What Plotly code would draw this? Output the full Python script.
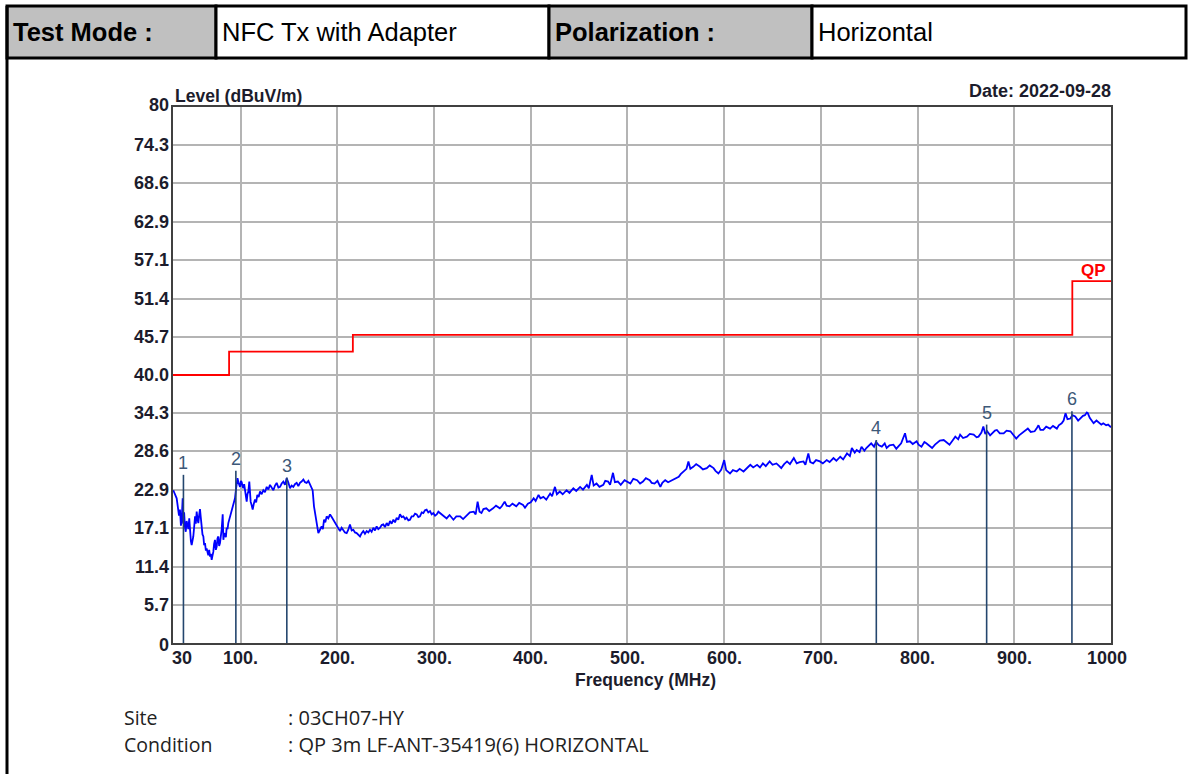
import plotly.graph_objects as go

# ---------------- data ----------------
freq_a = [30.3, 31.5, 33.8, 35.0, 36.2, 37.2, 38.2, 39.0, 40.0, 40.6, 41.5, 42.4, 43.2, 44.1, 45.0, 45.9, 46.8, 47.6,
          48.5, 49.3, 50.2, 51.0, 52.0, 52.8, 53.6, 54.5, 55.3, 56.2, 57.0, 57.9, 58.7, 59.6, 60.5, 61.4, 62.2, 63.1,
          64.0, 64.8, 65.7, 66.5, 67.4, 68.3, 69.1, 70.0, 70.8, 71.7, 72.5, 73.4, 74.3, 75.2, 76.0, 76.9, 77.7, 78.6,
          79.5, 80.3, 81.4, 82.1, 83.0, 83.8, 84.7, 85.5, 86.4, 87.2, 88.9, 90.7, 92.4, 94.1, 95.0, 95.8, 96.7, 97.6,
          98.5, 99.3, 100.2, 101.0, 101.9, 102.7, 103.6, 104.5, 105.3, 106.2, 107.0, 107.9, 108.9, 109.6, 110.3, 111.3,
          112.4, 113.6, 114.8, 116.0, 117.2, 118.6, 120.0, 121.7, 123.4, 125.1, 126.9, 128.6, 130.3, 132.0, 133.8,
          135.5, 137.2, 139.0, 140.7, 142.4, 144.1, 145.8, 147.5, 149.2, 151.0, 152.7, 154.4, 156.1, 157.9, 159.6,
          161.3, 163.0, 164.8, 166.5, 168.2, 170.0, 171.7, 173.0, 174.4, 175.8, 177.2, 178.6, 180.3, 182.0, 183.7,
          185.0, 186.2, 187.5, 188.9, 190.6, 192.4, 194.1, 195.8, 197.5, 199.3, 201.0, 202.7, 204.4, 206.1, 207.8,
          209.6, 211.3, 213.0, 214.8, 216.5, 218.2, 219.9, 221.6, 223.4, 225.1, 226.8, 228.5, 230.3, 232.0, 233.7,
          235.4, 237.2, 238.9, 240.6, 242.3, 244.1, 245.8, 247.5, 249.2, 251.0, 252.7, 254.4, 256.1, 257.9, 259.6,
          261.3, 263.0, 264.7, 266.5, 268.2, 270.0, 271.6, 273.4, 275.1, 276.8, 278.5, 280.3, 282.0, 283.7, 285.4,
          287.2, 288.9, 290.6, 292.3, 294.0, 295.8, 297.5, 299.2, 301.0, 302.7, 304.4, 306.1]
level_a = [22.8, 22.3, 21.6, 20.3, 19.0, 19.9, 17.5, 18.4, 21.6, 17.8, 19.5, 17.2, 16.6, 18.2, 17.4, 17.0, 18.6, 15.9,
           15.2, 14.6, 15.4, 15.9, 17.5, 18.9, 17.8, 19.6, 18.5, 17.9, 19.0, 20.0, 18.8, 17.4, 16.2, 15.9, 14.6, 14.9,
           13.8, 14.1, 13.4, 13.1, 13.9, 12.9, 13.3, 12.4, 13.0, 13.6, 14.8, 15.4, 13.9, 14.4, 15.6, 15.9, 14.5, 14.9,
           16.0, 16.9, 19.2, 15.4, 16.4, 16.2, 15.8, 17.2, 17.0, 17.9, 18.9, 19.6, 20.7, 21.6, 22.8, 24.1, 24.6, 24.0,
           23.5, 23.3, 24.2, 24.0, 23.4, 23.1, 23.7, 22.8, 22.0, 21.1, 22.2, 22.6, 24.1, 22.0, 21.1, 20.6,
           19.9, 20.8, 21.4, 21.0, 22.1, 21.8, 22.6, 22.2, 22.8, 22.5, 23.3, 22.9, 23.6, 23.2, 22.8,
           23.5, 23.9, 23.2, 23.3, 23.8, 24.1, 23.6, 24.6, 24.0, 23.1, 23.5, 23.3, 23.7, 23.9, 23.4,
           23.9, 24.1, 24.4, 24.0, 23.9, 24.2, 23.6, 23.4, 22.8, 20.4, 19.0, 17.9, 16.4, 16.9, 17.4,
           17.0, 18.4, 18.0, 18.9, 18.6, 19.2, 18.8, 18.4, 17.9, 17.4, 17.0, 16.7, 17.2, 16.9, 16.5,
           16.4, 16.9, 17.7, 16.8, 16.9, 16.5, 16.4, 16.2, 15.9, 16.4, 16.7, 16.3, 16.7, 16.5, 16.9,
           16.6, 17.2, 16.8, 17.4, 17.0, 17.2, 17.6, 17.7, 17.3, 17.9, 17.5, 18.2, 17.8, 18.4, 18.0,
           18.7, 18.4, 19.2, 18.8, 18.9, 18.5, 18.7, 18.3, 18.4, 18.9, 18.9, 19.3, 19.2, 18.8, 18.9,
           19.5, 19.4, 19.8, 19.9, 19.5, 19.7, 19.2, 19.4, 19.0, 19.2, 19.6, 19.4]

freq_b = [309, 313, 316, 320, 323, 327, 330, 334, 337, 341, 343, 345, 347, 349, 351, 354, 357, 361, 364, 368, 370, 373,
          375, 378, 381, 385, 388, 392, 394, 397, 400, 403, 405, 408, 410, 413, 416, 420, 422, 425, 427, 430, 433, 437,
          440, 444, 447, 451, 454, 458, 460, 463, 465, 468, 471, 475, 477, 480, 482, 485, 487, 490, 493, 497, 500, 503,
          506, 510, 513, 516, 519, 523, 525, 528, 531, 534, 536, 539, 542, 546, 549, 553, 555, 558, 561, 563, 565, 568,
          571, 575, 578, 582, 585, 589, 591, 594, 597, 600, 602, 606, 609, 613, 616, 620, 623, 627, 630, 634, 637, 640,
          643, 647, 650, 654, 657, 659, 662, 665, 668, 672, 675]
level_b = [19.0, 18.6, 19.1, 18.4, 18.9, 18.9, 18.5, 19.1, 19.5, 19.6, 19.2, 21.1, 19.6, 19.4, 20.0, 20.1, 19.7, 20.1,
           20.5, 20.1, 20.4, 21.1, 20.5, 20.4, 20.8, 20.4, 20.9, 20.6, 20.2, 20.8, 21.0, 21.6, 21.2, 22.1, 21.6, 21.8,
           21.4, 22.3, 21.9, 23.3, 22.2, 22.6, 22.2, 22.8, 22.4, 23.1, 22.7, 23.3, 22.9, 23.6, 23.1, 25.1, 23.5, 23.8,
           23.3, 23.6, 24.2, 24.1, 23.6, 25.4, 24.0, 24.1, 23.6, 24.3, 24.0, 23.8, 24.5, 24.3, 23.8, 24.1, 24.6, 24.3,
           23.9, 23.8, 24.2, 23.3, 23.9, 24.3, 24.0, 24.3, 24.6, 24.8, 25.2, 25.6, 26.0, 27.1, 26.0, 26.3, 26.7, 26.3,
           25.9, 26.1, 26.5, 26.1, 25.7, 25.3, 25.9, 27.3, 25.8, 25.3, 25.8, 25.6, 26.0, 25.6, 26.1, 26.6, 26.2, 26.6,
           26.2, 26.8, 26.4, 27.1, 26.6, 26.8, 26.4, 26.1, 26.7, 27.1, 26.7, 27.6, 26.8]

freq_c = [678, 682, 684, 687, 689, 692, 695, 699, 702, 706, 709, 713, 716, 720, 723, 727, 730, 732, 735, 737, 740, 742,
          745, 747, 750, 752, 755, 757, 760, 763, 766, 768, 771, 775, 778, 780, 783, 787, 789, 792, 795, 799, 801, 804,
          807, 809, 812, 815, 818, 820, 823, 827, 830, 833, 836, 839, 842, 844, 847, 851, 854, 858, 861, 863, 866, 868,
          870, 872, 875, 877, 880, 882, 885, 889, 892, 896, 899, 902, 905, 908, 911, 914, 917, 921, 923, 925, 927, 930,
          933, 937, 940, 944, 946, 949, 951, 953, 955, 958, 960, 963, 966, 968, 971, 973, 975, 976, 978, 980, 982, 985,
          987, 990, 992, 995, 997, 999, 1000]
level_c = [27.0, 27.1, 26.6, 28.3, 27.0, 26.8, 27.3, 27.1, 26.8, 27.3, 27.0, 27.6, 27.2, 27.8, 27.4, 28.3, 27.9, 29.1,
           28.4, 28.8, 28.5, 29.3, 28.7, 29.1, 29.5, 29.8, 29.3, 30.0, 29.5, 29.3, 29.8, 29.1, 29.5, 29.6, 29.0, 29.3,
           29.8, 31.3, 30.0, 30.1, 29.7, 30.1, 29.6, 29.3, 30.0, 29.8, 29.4, 29.1, 29.6, 29.8, 30.2, 30.3, 29.9, 29.6,
           30.2, 30.8, 30.4, 31.1, 30.6, 30.8, 31.2, 31.1, 30.7, 30.8, 31.4, 32.3, 31.2, 31.6, 31.0, 31.3, 31.7, 31.8,
           31.3, 31.3, 31.7, 31.6, 31.1, 30.5, 31.0, 31.3, 31.6, 32.0, 31.5, 31.6, 32.0, 32.5, 31.8, 31.8, 32.3, 32.0,
           32.4, 32.0, 32.5, 32.8, 33.2, 34.3, 33.4, 33.5, 34.0, 33.8, 33.2, 33.5, 33.9, 34.0, 34.4, 34.3, 33.6, 33.2,
           32.8, 33.2, 33.0, 32.6, 32.8, 32.5, 32.6, 32.3, 32.2]

limit_freq = [30, 88, 216, 960, 1000]
limit_level = [40.0, 43.5, 46.0, 54.0, 54.0]

marker_freq = [40.8, 95.0, 147.7, 757.3, 871.4, 959.6]
marker_level = [25.1, 25.7, 24.7, 30.3, 32.6, 34.6]
marker_label = ["1", "2", "3", "4", "5", "6"]

xtick_vals = [30, 100, 200, 300, 400, 500, 600, 700, 800, 900, 1000]
xtick_text = ["30", "100.", "200.", "300.", "400.", "500.", "600.", "700.", "800.", "900.", "1000"]
ytick_vals = [0, 5.7, 11.4, 17.1, 22.9, 28.6, 34.3, 40.0, 45.7, 51.4, 57.1, 62.9, 68.6, 74.3, 80]
ytick_text = ["0", "5.7", "11.4", "17.1", "22.9", "28.6", "34.3", "40.0", "45.7", "51.4", "57.1", "62.9", "68.6",
              "74.3", "80"]

header_cells = ["Test Mode :", "NFC Tx with Adapter", "Polarization :", "Horizontal"]
info_labels = ["Site", "Condition"]
info_values = [": 03CH07-HY", ": QP 3m LF-ANT-35419(6) HORIZONTAL"]

# ---------------- layout helpers ----------------
W, H = 1189, 774
L, R, T, B = 173, 1111, 107, 643


def px(x):
    return (x - L) / (R - L)


def py(y):
    return (B - y) / (B - T)


FONT = "Liberation Sans, Arial, sans-serif"
TXT = "#1c1c2c"

fig = go.Figure()

# measured trace
fig.add_trace(go.Scatter(x=freq_a + freq_b + freq_c, y=level_a + level_b + level_c, mode="lines",
                         line=dict(color="#0000ff", width=1.8), hoverinfo="skip", showlegend=False))

# limit line
fig.add_trace(go.Scatter(x=limit_freq, y=limit_level, mode="lines", line=dict(color="#ff0000", width=1.8, shape="hv"),
                         hoverinfo="skip", showlegend=False))

# marker lines
mx, my = [], []
for f, v in zip(marker_freq, marker_level):
    mx += [f, f, None]
    my += [0, v, None]
fig.add_trace(go.Scatter(x=mx, y=my, mode="lines", line=dict(color="#24466e", width=1.6), hoverinfo="skip",
                         showlegend=False))

annotations = []
for f, v, t in zip(marker_freq, marker_level, marker_label):
    annotations.append(dict(x=f, y=v, xref="x", yref="y", text=t, showarrow=False, yanchor="bottom", yshift=0,
                            font=dict(family=FONT, size=18, color="#3d5878")))

# x tick labels
for v, t in zip(xtick_vals, xtick_text):
    shift = 0
    if v == xtick_vals[0]:
        shift = 9
    elif v == xtick_vals[-1]:
        shift = -4
    annotations.append(dict(x=v, y=0, xref="x", yref="paper", text="<b>%s</b>" % t, showarrow=False,
                            yanchor="top", yshift=-3, xshift=shift, font=dict(family=FONT, size=18, color=TXT)))

# y tick labels
for v, t in zip(ytick_vals, ytick_text):
    ys = 0
    if v == ytick_vals[0]:
        ys = -2
    elif v == ytick_vals[-1]:
        ys = 2
    annotations.append(dict(x=0, y=v, xref="paper", yref="y", text="<b>%s</b>" % t, showarrow=False,
                            xanchor="right", yanchor="middle", xshift=-2, yshift=ys,
                            font=dict(family=FONT, size=18, color=TXT)))

# chart texts
annotations += [
    dict(x=px(173), y=py(96), xref="paper", yref="paper", text="<b>Level (dBuV/m)</b>", showarrow=False,
         xanchor="left", yanchor="middle", font=dict(family=FONT, size=17.5, color=TXT)),
    dict(x=px(1113), y=py(91), xref="paper", yref="paper", text="<b>Date: 2022-09-28</b>", showarrow=False,
         xanchor="right", yanchor="middle", font=dict(family=FONT, size=18, color=TXT)),
    dict(x=px(645), y=py(680), xref="paper", yref="paper", text="<b>Frequency (MHz)</b>", showarrow=False,
         xanchor="center", yanchor="middle", font=dict(family=FONT, size=17.5, color=TXT)),
    dict(x=px(1108), y=py(270), xref="paper", yref="paper", text="<b>QP</b>", showarrow=False,
         xanchor="right", yanchor="middle", font=dict(family=FONT, size=17, color="#ff0000")),
]

# header table
shapes = []
hx = [7, 216, 549, 812, 1186]
hy0, hy1 = 6, 58
fills = ["#c0c0c0", "#ffffff", "#c0c0c0", "#ffffff"]
for i in range(4):
    shapes.append(dict(type="rect", xref="paper", yref="paper", x0=px(hx[i]), x1=px(hx[i + 1]), y0=py(hy1),
                       y1=py(hy0), fillcolor=fills[i], line=dict(color="#000000", width=3), layer="below"))
    bold = i % 2 == 0
    annotations.append(dict(x=px(hx[i] + 4), y=py(32), xref="paper", yref="paper",
                            text=("<b>%s</b>" % header_cells[i]) if bold else header_cells[i], showarrow=False,
                            xanchor="left", yanchor="middle", font=dict(family=FONT, size=25.5, color="#000000")))
# left page border
shapes.append(dict(type="line", xref="paper", yref="paper", x0=px(7), x1=px(7), y0=py(774), y1=py(hy0),
                   line=dict(color="#000000", width=3)))

# site / condition
INFO_FONT = "Open Sans, Noto Sans, sans-serif"
for i, (lab, val) in enumerate(zip(info_labels, info_values)):
    yy = 717 + 27 * i
    annotations.append(dict(x=px(122), y=py(yy), xref="paper", yref="paper", text=lab, showarrow=False,
                            xanchor="left", yanchor="middle", font=dict(family=INFO_FONT, size=19.5, color="#222222")))
    annotations.append(dict(x=px(286), y=py(yy), xref="paper", yref="paper", text=val, showarrow=False,
                            xanchor="left", yanchor="middle", font=dict(family=INFO_FONT, size=20, color="#222222")))

fig.update_layout(
    width=W, height=H,
    margin=dict(l=L, r=W - R, t=T, b=H - B, pad=0),
    paper_bgcolor="#ffffff", plot_bgcolor="#ffffff",
    showlegend=False,
    annotations=annotations,
    shapes=shapes,
    xaxis=dict(range=[30, 1000], tickvals=xtick_vals[1:-1], showticklabels=False, ticks="",
               showgrid=True, gridcolor="#b4b4b4", gridwidth=2, zeroline=False,
               showline=True, linecolor="#404040", linewidth=2, mirror=True, fixedrange=True),
    yaxis=dict(range=[0, 80], tickvals=ytick_vals, showticklabels=False, ticks="",
               showgrid=True, gridcolor="#b4b4b4", gridwidth=2, zeroline=False,
               showline=True, linecolor="#404040", linewidth=2, mirror=True, fixedrange=True),
)

fig.write_html("out.html", config={"displayModeBar": False},
               post_script="document.body.style.margin='0px';document.body.style.overflow='hidden';")
